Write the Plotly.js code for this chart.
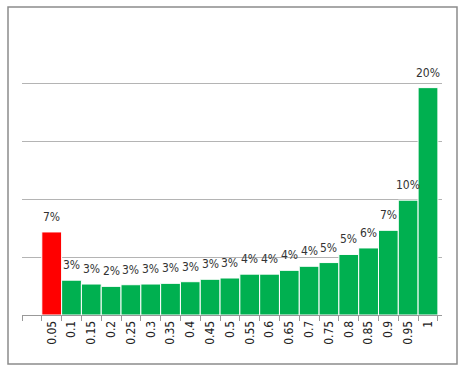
<!DOCTYPE html>
<html>
<head>
<meta charset="utf-8">
<script src="https://cdn.plot.ly/plotly-3.0.1.min.js"></script>
<style>html,body{margin:0;padding:0;background:#fff;}#chart{width:466px;height:374px;}</style>
</head>
<body>
<div id="chart"></div>
<script>
const categories = [" ", "0.05", "0.1", "0.15", "0.2", "0.25", "0.3", "0.35", "0.4", "0.45", "0.5",
  "0.55", "0.6", "0.65", "0.7", "0.75", "0.8", "0.85", "0.9", "0.95", "1"];
const values = [null, 0.0716, 0.0300, 0.0267, 0.0247, 0.0261, 0.0267, 0.0273, 0.0287, 0.0308, 0.0319,
  0.0352, 0.0352, 0.0385, 0.0420, 0.0452, 0.0522, 0.0578, 0.0730, 0.0990, 0.1960];
const labels = ["", "7%", "3%", "3%", "2%", "3%", "3%", "3%", "3%", "3%", "3%",
  "4%", "4%", "4%", "4%", "5%", "5%", "6%", "7%", "10%", "20%"];
const colors = categories.map((c, i) => i === 1 ? "#FF0000" : "#00B050");

const font = "'DejaVu Sans Condensed', 'DejaVu Sans', sans-serif";

const annotations = [];
categories.forEach((c, i) => {
  if (values[i] == null) return;
  annotations.push({
    x: i, y: values[i], xref: "x", yref: "y", text: labels[i], showarrow: false,
    yshift: 15, font: {family: font, size: 12, color: "#333333"}
  });
});

const trace = {
  type: "bar", x: categories, y: values,
  marker: {color: colors, line: {color: "#ffffff", width: 1}},
  hoverinfo: "skip"
};

const layout = {
  width: 466, height: 374,
  margin: {l: 22, r: 24, t: 25, b: 59, pad: 0},
  paper_bgcolor: "#ffffff", plot_bgcolor: "#ffffff",
  bargap: 0,
  showlegend: false,
  xaxis: {
    type: "category", categoryorder: "array", categoryarray: categories,
    tickson: "boundaries", ticks: "outside", ticklen: 5, tickcolor: "#999999", tickwidth: 1,
    showline: true, linecolor: "#999999", linewidth: 1,
    showgrid: false, tickangle: -90,
    tickfont: {family: font, size: 12, color: "#222222"},
    fixedrange: true
  },
  yaxis: {
    range: [0, 0.25], dtick: 0.05, tick0: 0,
    showticklabels: false, ticks: "",
    showgrid: true, gridcolor: "#b4b4b4", gridwidth: 1,
    zeroline: false, showline: false, fixedrange: true
  },
  annotations: annotations,
  shapes: [{
    type: "rect", xref: "paper", yref: "paper",
    x0: (8 - 22) / 420, x1: (457 - 22) / 420,
    y0: (315 - 364) / 290, y1: (315 - 7) / 290,
    line: {color: "#8c8c8c", width: 1.5}, fillcolor: "rgba(0,0,0,0)", layer: "below"
  }]
};

Plotly.newPlot("chart", [trace], layout, {staticPlot: true, displayModeBar: false});
</script>
</body>
</html>
